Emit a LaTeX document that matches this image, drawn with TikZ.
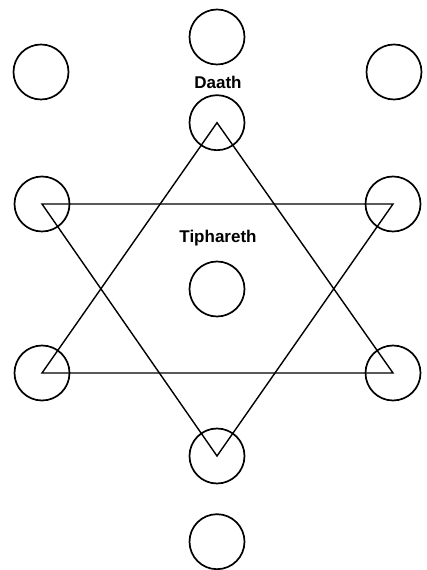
\documentclass[tikz,border=0pt]{standalone}
\usepackage{fontspec}
\setmainfont{Liberation Sans}
\usetikzlibrary{positioning}

\begin{document}
\begin{tikzpicture}[x=1pt, y=1pt, node distance=29pt and 120pt,
  sef/.style={draw, circle, line width=1.7pt, minimum size=55pt, inner sep=0pt},
  lbl/.style={font=\bfseries\fontsize{17}{17}\selectfont, inner sep=0pt}]
\useasboundingbox (0,0) rectangle (427,570);
% middle pillar
\node[sef] (kether) at (217,533) {};
\node[sef, below=of kether] (daath) {};
\node[sef] (tiphareth) at (217,281) {};
\node[sef] (yesod) at (217,114) {};
\node[sef, below=of yesod] (malkuth) {};
% side pillars
\node[sef] (binah) at (41,498) {};
\node[sef] (chokmah) at (394,498) {};
\node[sef] (geburah) at (42,366) {};
\node[sef] (chesed) at (393,366) {};
\node[sef] (hod) at (42,197) {};
\node[sef] (netzach) at (393,197) {};
% labels
\node[lbl] (daathlbl) at (218,488) {Daath};
\node[lbl] (tiphlbl) at (218,332) {Tiphareth};
% the two triangles
\draw[line width=1.4pt, line join=miter] (daath.center) -- (hod.center) -- (netzach.center) -- cycle;
\draw[line width=1.4pt, line join=miter] (geburah.center) -- (chesed.center) -- (yesod.center) -- cycle;
\end{tikzpicture}
\end{document}
